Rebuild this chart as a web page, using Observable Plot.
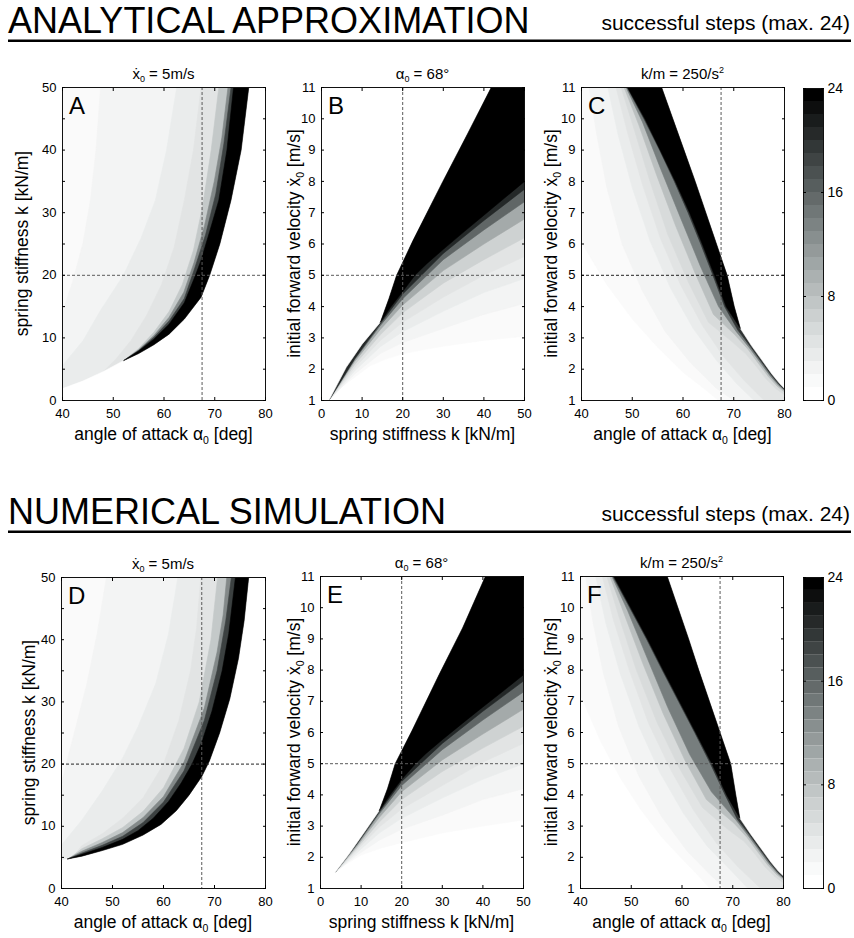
<!DOCTYPE html>
<html><head><meta charset="utf-8">
<script src="https://cdn.jsdelivr.net/npm/d3@7"></script>
<script src="https://cdn.jsdelivr.net/npm/@observablehq/plot@0.6"></script>
<style>
body{margin:0;background:#fff;}
#root{position:relative;width:854px;height:938px;background:#fff;overflow:hidden;}
</style></head><body><div id="root"></div>
<script>
// ---------------- axes / ticks ----------------
const alphaDomain = [40, 80];
const kDomain = [0, 50];
const vDomain = [1, 11];
const alphaTicks = [40, 50, 60, 70, 80];
const kTicks = [0, 5, 10, 15, 20, 25, 30, 35, 40, 45, 50];
const kTickLabels = [0, 10, 20, 30, 40, 50];
const kTicksX = [0, 10, 20, 30, 40, 50];
const vTicks = [1, 2, 3, 4, 5, 6, 7, 8, 9, 10, 11];
const colorbarSteps = [0,1,2,3,4,5,6,7,8,9,10,11,12,13,14,15,16,17,18,19,20,21,22,23];
const colorbarTicks = [0, 8, 16, 24];

// ---------------- Panel A (analytical, x = angle of attack, y = k) ----------------
const A_lower = [[40,1.9],[44,3.1],[48,4.6],[52.1,6.4]];
const A_blackRight = [[52.1,6.4],[55,7.5],[58,8.9],[61,10.6],[64,13],[67.3,16.5],[69,20],[71,25],[73.2,32],[75.2,40],[76.7,50]];
const A_blackLeft = [[52.1,6.4],[55,7.9],[58,9.8],[61,12.2],[64,15.6],[66.2,20],[67.3,22.4],[69,27],[70.8,32],[72.4,40],[73.7,50]];
const A_levels = [1, 2, 3, 4, 7, 13, 19];
const A_contours = [
  [[40,1.9],[40,50]],
  [[40,14],[42,19],[44,25],[45.5,32],[46.6,40],[47.5,50]],
  [[40,5.6],[44,9.5],[47.5,14.4],[52,20],[55.5,26],[58.3,32],[60.5,40],[62.5,50]],
  [[48,4.6],[50.5,6.6],[53.5,9.6],[56.5,13.5],[59.5,18.5],[62,24.5],[64,32],[65.8,40],[67.3,50]],
  [[52.1,6.4],[55,8.3],[58,10.9],[61,14.2],[63.6,18.5],[65.8,24],[67.6,31],[69.3,40],[70.8,50]],
  [[52.1,6.4],[55,8.1],[58,10.4],[61,13.3],[63.9,17.3],[65.9,22],[68,28],[69.9,35],[71.4,42],[72.6,50]],
  [[52.1,6.4],[55,8.0],[58,10.1],[61,12.7],[64,16.3],[66,21],[68.2,26.5],[70.2,33],[71.8,41],[73.2,50]]
];

// ---------------- Panel D (numerical, x = angle of attack, y = k) ----------------
const D_lower = [[40,4.5],[41.2,4.75]];
const D_blackRight = [[41.2,4.75],[44,5.2],[48,6.1],[52,7.1],[56,8.6],[59.5,10.3],[62.5,12.5],[65,15],[67.5,18],[69,20.5],[71,25],[73,30.5],[74.7,37],[75.8,43],[76.7,50]];
const D_blackLeft = [[41.2,4.75],[44,5.5],[48,6.6],[52,7.9],[55,9.3],[58,11.3],[61,14],[63.5,17],[65.6,20],[67.5,23.5],[69.5,28.5],[71.5,35],[72.8,41],[74.1,50]];
const D_levels = [1, 2, 3, 4, 7, 13, 19];
const D_contours = [
  [[40,4.5],[40,50]],
  [[40,17],[42.5,25],[45,33],[47,41],[48.8,50]],
  [[40,7],[44,11],[48,15.7],[52,21],[55,26],[58.5,33],[61,41],[62.8,50]],
  [[42.5,5.4],[44,6.9],[48,8.8],[52,11.3],[56,14.6],[60,20],[63,27],[65.3,35],[66.5,42],[67.3,50]],
  [[42,5.15],[44,6.4],[48,8.0],[52,9.8],[56,12.4],[60,16.2],[64,22.5],[67,30],[69.3,40],[70.6,50]],
  [[41.2,4.75],[44,6.0],[48,7.4],[52,9.0],[56,11.4],[60,14.8],[64,20.3],[68,29],[70.5,38],[71.7,44],[72.4,50]],
  [[41.2,4.75],[44,5.7],[48,6.95],[52,8.4],[56,10.6],[60,13.9],[64,18.9],[68,27],[70.5,35],[72.2,43],[73.3,50]]
];

// ---------------- Panel B (analytical, x = k, y = forward velocity) ----------------
const B_upper = [[1.8,1],[6.1,2.06],[10,2.8],[14.5,3.5],[16.6,4.25],[18.5,5],[22.5,6.1],[29.9,8.0],[35.9,9.5],[41.8,11]];
const B_blackLower = [[14.5,3.5],[17,3.98],[20,4.48],[23,5.0],[26,5.38],[30,5.83],[35,6.38],[40,6.92],[45,7.46],[50,8.0]];
const B_levels = [1, 2, 3, 4, 6, 10, 16, 21];
const B_contours = [
  [[1.8,1],[5,1.43],[8.2,1.74],[12,2.11],[16,2.33],[20,2.49],[25,2.62],[30,2.73],[40,2.92],[50,3.05]],
  [[1.8,1],[8.2,1.85],[14.5,2.5],[20,2.85],[30,3.3],[40,3.75],[50,4.1]],
  [[1.8,1],[8.2,1.95],[14.5,2.72],[20,3.2],[30,3.85],[40,4.45],[50,4.9]],
  [[1.8,1],[8.2,2.05],[14.5,2.92],[20,3.5],[30,4.3],[40,5.0],[50,5.6]],
  [[1.8,1],[8.2,2.15],[14.5,3.1],[20,3.8],[30,4.75],[40,5.5],[50,6.2]],
  [[1.8,1],[8.2,2.25],[14.5,3.27],[20,4.05],[30,5.15],[40,6.0],[50,6.8]],
  [[1.8,1],[8.2,2.31],[14.5,3.4],[20,4.25],[30,5.5],[40,6.45],[50,7.35]],
  [[1.8,1],[8.2,2.34],[14.5,3.46],[20,4.4],[30,5.7],[40,6.75],[50,7.75]]
];

// ---------------- Panel E (numerical, x = k, y = forward velocity) ----------------
const E_upper = [[3.7,1.53],[7,2.1],[10.5,2.75],[14.5,3.5],[16.5,4.2],[18.4,5],[22.5,6.05],[29.2,7.85],[35,9.35],[40.6,11]];
const E_blackLower = [[14.5,3.5],[17,3.98],[20,4.5],[23.4,5.0],[26,5.33],[30,5.77],[35,6.3],[40,6.82],[45,7.33],[50,7.85]];
const E_levels = [1, 2, 3, 4, 6, 10, 16, 21];
const E_contours = [
  [[3.7,1.53],[6,1.75],[10,2.07],[15,2.3],[20,2.47],[30,2.78],[40,3.0],[50,3.2]],
  [[3.7,1.53],[9,2.07],[14.5,2.55],[20,2.9],[30,3.35],[40,3.85],[50,4.2]],
  [[3.7,1.53],[9,2.15],[14.5,2.78],[20,3.25],[30,3.9],[40,4.5],[50,5.0]],
  [[3.7,1.53],[9,2.23],[14.5,2.97],[20,3.55],[30,4.3],[40,5.05],[50,5.65]],
  [[3.7,1.53],[9,2.3],[14.5,3.13],[20,3.85],[30,4.75],[40,5.5],[50,6.2]],
  [[3.7,1.53],[9,2.36],[14.5,3.28],[20,4.1],[30,5.12],[40,5.95],[50,6.75]],
  [[3.7,1.53],[9,2.41],[14.5,3.4],[20,4.3],[30,5.45],[40,6.4],[50,7.3]],
  [[3.7,1.53],[9,2.44],[14.5,3.46],[20,4.43],[30,5.65],[40,6.68],[50,7.65]]
];

// ---------------- Panel C (analytical, x = angle of attack, y = forward velocity) ----------------
const C_blackLeft = [[49.1,11],[52.5,10],[55.5,9],[58.5,8],[61.3,7],[63.8,6],[66.2,5],[68.5,4],[71.3,3.3]];
const C_blackRight = [[55.8,11],[58,10],[60.2,9],[62.4,8],[64.5,7],[66.6,6],[68.7,5],[70.1,4],[71.3,3.3]];
const C_outer = [[71.3,3.3],[73.5,2.75],[75.5,2.3],[77.5,1.85],[79,1.55],[80,1.38]];
const C_levels = [1, 2, 3, 4, 5, 8, 14, 20];
const C_contours = [
  [[40,6.05],[45,4.7],[50,3.6],[55,2.7],[60,1.9],[64,1.4],[67,1]],
  [[41.5,11],[43,9.5],[45,7.8],[48,6],[52,4.5],[56.5,3.2],[61.5,2.2],[66.5,1.4],[70,1]],
  [[45.2,11],[47.2,9.5],[50,7.8],[53.5,6.1],[57.5,4.6],[62,3.3],[66.5,2.3],[70.5,1.55],[74,1]],
  [[46.8,11],[49,9.6],[52,7.9],[55.5,6.2],[59.5,4.7],[63.8,3.4],[68,2.4],[72,1.65],[76,1]],
  [[47.8,11],[50.3,9.7],[53.5,8],[57,6.3],[61,4.8],[65,3.5],[69.5,2.9],[72.3,2.5],[74.3,2.12],[76.3,1.7],[78.3,1.38],[80,1.18]],
  [[48.4,11],[51.3,9.8],[54.8,8.2],[58.5,6.6],[62.3,5.1],[66,3.75],[70.2,3.1],[72.8,2.64],[74.8,2.2],[76.8,1.77],[78.6,1.45],[80,1.27]],
  [[48.8,11],[52,9.9],[55.6,8.4],[59.6,6.8],[63.4,5.3],[67,4.0],[70.5,3.2],[73.1,2.68],[75.1,2.24],[77.1,1.8],[78.8,1.49],[80,1.32]],
  [[49,11],[52.3,10],[55.4,9],[58.3,8],[61,7],[63.5,6],[65.9,5],[68.2,4],[70.8,3.25],[73.3,2.72],[75.3,2.27],[77.3,1.83],[78.9,1.52],[80,1.35]]
];

// ---------------- Panel F (numerical, x = angle of attack, y = forward velocity) ----------------
const F_blackLeft = [[46.6,11],[49.9,10],[53.2,9],[56.3,8],[59.5,7],[62.7,6],[65.9,5],[68.8,4],[71.4,3.25]];
const F_blackRight = [[57.1,11],[59.2,10],[61.3,9],[63.3,8],[65.4,7],[67.5,6],[69.6,5],[70.6,4],[71.4,3.25]];
const F_outer = [[71.4,3.25],[73.5,2.75],[75.5,2.3],[77.5,1.85],[79,1.55],[80,1.4]];
const F_levels = [1, 2, 3, 4, 5, 8, 14, 20];
const F_contours = [
  [[40,7.2],[44,5.7],[48,4.5],[52,3.5],[56,2.65],[60,1.95],[63,1.45],[65.5,1]],
  [[41,11],[42.5,9.5],[44.5,7.9],[47.5,6.2],[51.5,4.6],[56,3.3],[61,2.2],[65.5,1.45],[68.5,1]],
  [[43,11],[45,9.5],[47.8,7.9],[51.5,6.2],[55.7,4.7],[60.3,3.4],[65,2.35],[69.5,1.6],[73,1]],
  [[44.3,11],[46.5,9.6],[49.6,8],[53.4,6.3],[57.8,4.8],[62.3,3.5],[66.8,2.45],[71,1.7],[75.5,1]],
  [[45.2,11],[47.6,9.7],[51,8],[55,6.35],[59.5,4.85],[64,3.6],[69,2.9],[72.3,2.5],[74.3,2.12],[76.3,1.7],[78.3,1.38],[80,1.18]],
  [[45.8,11],[48.6,9.8],[52.3,8.2],[56.3,6.6],[60.6,5.1],[64.8,3.85],[70.2,3.1],[72.8,2.64],[74.8,2.2],[76.8,1.77],[78.6,1.45],[80,1.27]],
  [[46.2,11],[49.3,9.9],[53.1,8.4],[57.2,6.8],[61.5,5.3],[65.8,4.1],[70.6,3.2],[73.1,2.68],[75.1,2.24],[77.1,1.8],[78.8,1.49],[80,1.32]],
  [[46.4,11],[49.7,10],[53,9],[56.1,8],[59.3,7],[62.5,6],[65.6,5],[68.5,4],[70.9,3.22],[73.3,2.72],[75.3,2.27],[77.3,1.83],[78.9,1.52],[80,1.35]]
];

// reference (dashed) lines
const alphaRef = 67.5, kRef = 20, vRef = 5;

// ---------------- helpers ----------------
const FONT = "'Liberation Sans', Arial, Helvetica, sans-serif";
const MAXSTEPS = 24;
function shade(L) {
  const f = Math.pow(Math.max(0, L) / MAXSTEPS, 1.25);
  const v = 1 - f, base = 255 * v, t = v * (1 - v);
  const r = Math.round(Math.max(0, base - 24 * t));
  const g = Math.round(Math.min(255, base + 3 * t));
  return `rgb(${r},${g},${g})`;
}
const [ax0, ax1] = alphaDomain, [k0, k1] = kDomain, [v0, v1] = vDomain;

function polysAK(lower, bLeft, bRight, levels, contours) {
  const out = contours.map((c, i) => ({pts: [...c, [ax1, k1], [ax1, k0], [c[0][0], k0]], fill: shade(levels[i])}));
  const top = bRight[bRight.length - 1];
  out.push({pts: [top, [ax1, k1], [ax1, k0], [ax0, k0], ...lower, ...bRight.slice(1)], fill: "#ffffff"});
  out.push({pts: [...bLeft, ...bRight.slice().reverse()], fill: shade(MAXSTEPS)});
  return out;
}
function polysKV(upper, bLower, levels, contours) {
  const out = contours.map((c, i) => ({pts: [...c, [k1, v1], [k0, v1], [k0, c[0][1]]], fill: shade(levels[i])}));
  out.push({pts: [[k0, v0], ...upper, [k0, v1]], fill: "#ffffff"});
  const tipX = bLower[0][0];
  out.push({pts: [...bLower, [k1, v1], ...upper.filter(p => p[0] >= tipX).reverse()], fill: shade(MAXSTEPS)});
  return out;
}
function polysAV(bLeft, bRight, outer, levels, contours) {
  const out = contours.map((c, i) => {
    const head = c[0][1] < v1 ? [[c[0][0], v1]] : [];
    return {pts: [...head, ...c, [ax1, v0], [ax1, v1]], fill: shade(levels[i])};
  });
  out.push({pts: [...bRight, ...outer.slice(1), [ax1, v1]], fill: "#ffffff"});
  out.push({pts: [...bLeft, ...bRight.slice().reverse()], fill: shade(MAXSTEPS)});
  return out;
}

const root = document.getElementById("root");

function drawPanel(s) {
  const mL = 45, mR = 12, mT = 6, mB = 30;
  const marks = s.polys.map(p => Plot.line(p.pts, {x: d => d[0], y: d => d[1], fill: p.fill, stroke: p.fill, strokeWidth: 0.6}));
  marks.push(Plot.ruleX([s.dashX], {stroke: s.dashColorX, strokeDasharray: "3,2", strokeWidth: 1}));
  marks.push(Plot.ruleY([s.dashY], {stroke: s.dashColorY, strokeDasharray: "3,2", strokeWidth: 1}));
  marks.push(Plot.frame({stroke: "#111", strokeWidth: 1}));
  marks.push(Plot.axisX(s.xTicks, {anchor: "bottom", tickSize: 3, dy: -3, tickPadding: 8, tickFormat: d => s.xLabels.includes(d) ? String(d) : "", label: null}));
  marks.push(Plot.axisX(s.xTicks, {anchor: "top", tickSize: 3, dy: 3, tickFormat: () => "", label: null}));
  marks.push(Plot.axisY(s.yTicks, {anchor: "left", tickSize: 3, dx: 3, tickPadding: 6, tickFormat: d => s.yLabels.includes(d) ? String(d) : "", label: null}));
  marks.push(Plot.axisY(s.yTicks, {anchor: "right", tickSize: 3, dx: -3, tickFormat: () => "", label: null}));
  const svg = Plot.plot({
    width: s.w + mL + mR, height: s.h + mT + mB,
    marginLeft: mL, marginRight: mR, marginTop: mT, marginBottom: mB,
    x: {domain: s.xDomain}, y: {domain: s.yDomain},
    style: {fontFamily: FONT, fontSize: "13px", color: "#000", background: "transparent", overflow: "visible"},
    marks
  });
  svg.style.position = "absolute";
  svg.style.left = (s.left - mL) + "px";
  svg.style.top = (s.top - mT) + "px";
  svg.style.maxWidth = "none";
  root.appendChild(svg);
}

function drawColorbar(left, top, w, h) {
  const mL = 10, mR = 30, mT = 8, mB = 8;
  const svg = Plot.plot({
    width: w + mL + mR, height: h + mT + mB,
    marginLeft: mL, marginRight: mR, marginTop: mT, marginBottom: mB,
    x: {domain: [0, 1]}, y: {domain: [0, MAXSTEPS]}, color: {type: "identity"},
    style: {fontFamily: FONT, fontSize: "14px", color: "#000", background: "transparent", overflow: "visible"},
    marks: [
      Plot.rect(colorbarSteps, {x1: () => 0, x2: () => 1, y1: d => d, y2: d => d + 1, fill: d => shade(d * MAXSTEPS / 23)}),
      Plot.frame({stroke: "#111", strokeWidth: 1}),
      Plot.axisY(colorbarTicks, {anchor: "right", tickSize: 3, dx: -3, tickPadding: 4, label: null}),
      Plot.axisY(colorbarTicks, {anchor: "left", tickSize: 3, dx: 3, tickFormat: () => "", label: null}),
      Plot.axisX([], {anchor: "bottom", label: null})
    ]
  });
  svg.style.position = "absolute";
  svg.style.left = (left - mL) + "px";
  svg.style.top = (top - mT) + "px";
  svg.style.maxWidth = "none";
  root.appendChild(svg);
}

const G = "#5a5a5a", K = "#222";
const panels = [
  {name: "A", left: 62, top: 87, w: 203, h: 313, xDomain: alphaDomain, yDomain: kDomain, xTicks: alphaTicks, xLabels: alphaTicks, yTicks: kTicks, yLabels: kTickLabels,
   polys: polysAK(A_lower, A_blackLeft, A_blackRight, A_levels, A_contours), dashX: alphaRef, dashY: kRef, dashColorX: G, dashColorY: G},
  {name: "B", left: 321, top: 87, w: 203, h: 313, xDomain: kDomain, yDomain: vDomain, xTicks: kTicksX, xLabels: kTicksX, yTicks: vTicks, yLabels: vTicks,
   polys: polysKV(B_upper, B_blackLower, B_levels, B_contours), dashX: kRef, dashY: vRef, dashColorX: G, dashColorY: G},
  {name: "C", left: 581, top: 87, w: 203, h: 313, xDomain: alphaDomain, yDomain: vDomain, xTicks: alphaTicks, xLabels: alphaTicks, yTicks: vTicks, yLabels: vTicks,
   polys: polysAV(C_blackLeft, C_blackRight, C_outer, C_levels, C_contours), dashX: alphaRef, dashY: vRef, dashColorX: G, dashColorY: K},
  {name: "D", left: 61, top: 577, w: 204, h: 311, xDomain: alphaDomain, yDomain: kDomain, xTicks: alphaTicks, xLabels: alphaTicks, yTicks: kTicks, yLabels: kTickLabels,
   polys: polysAK(D_lower, D_blackLeft, D_blackRight, D_levels, D_contours), dashX: alphaRef, dashY: kRef, dashColorX: G, dashColorY: K},
  {name: "E", left: 320, top: 576, w: 203, h: 312, xDomain: kDomain, yDomain: vDomain, xTicks: kTicksX, xLabels: kTicksX, yTicks: vTicks, yLabels: vTicks,
   polys: polysKV(E_upper, E_blackLower, E_levels, E_contours), dashX: kRef, dashY: vRef, dashColorX: G, dashColorY: G},
  {name: "F", left: 580, top: 576, w: 203, h: 312, xDomain: alphaDomain, yDomain: vDomain, xTicks: alphaTicks, xLabels: alphaTicks, yTicks: vTicks, yLabels: vTicks,
   polys: polysAV(F_blackLeft, F_blackRight, F_outer, F_levels, F_contours), dashX: alphaRef, dashY: vRef, dashColorX: G, dashColorY: G}
];
panels.forEach(drawPanel);
drawColorbar(803, 88, 20, 312);
drawColorbar(803, 577, 20, 311);

// ---------------- text overlay ----------------
const ov = d3.create("svg").attr("width", 854).attr("height", 938)
  .style("position", "absolute").style("left", "0px").style("top", "0px")
  .attr("font-family", FONT).attr("fill", "#000");
root.appendChild(ov.node());

function addText(x, y, size, parts, anchor = "start", rotate = 0) {
  const t = ov.append("text").attr("font-size", size).attr("text-anchor", anchor)
    .attr("transform", `translate(${x},${y})` + (rotate ? ` rotate(${rotate})` : ""));
  let shift = 0;
  for (const p of parts) {
    const ts = t.append("tspan");
    let txt = p, target = 0;
    if (typeof p === "object") {
      txt = p.t; target = p.sub ? 0.22 * size : -0.38 * size;
      ts.attr("font-size", (0.6 * size).toFixed(1));
    }
    ts.attr("dy", (target - shift).toFixed(2)).text(txt);
    shift = target;
  }
}

const sectionTitles = ["ANALYTICAL APPROXIMATION", "NUMERICAL SIMULATION"];
const sectionNote = "successful steps (max. 24)";
const subtitles = [
  ["\u1E8B", {t: "0", sub: true}, " = 5m/s"],
  ["\u03B1", {t: "0", sub: true}, " = 68\u00B0"],
  ["k/m = 250/s", {t: "2", sub: false}]
];
const xTitles = [
  ["angle of attack \u03B1", {t: "0", sub: true}, " [deg]"],
  ["spring stiffness k [kN/m]"],
  ["angle of attack \u03B1", {t: "0", sub: true}, " [deg]"]
];
const yTitles = [
  ["spring stiffness k [kN/m]"],
  ["initial forward velocity \u1E8B", {t: "0", sub: true}, " [m/s]"],
  ["initial forward velocity \u1E8B", {t: "0", sub: true}, " [m/s]"]
];
const yTitleX = [28, 300, 557, 35, 300, 557];

[0, 1].forEach(row => {
  const off = row === 0 ? 0 : 491;
  addText(8, 33 + off, 36, [sectionTitles[row]]);
  addText(850, 30 + off, 21, [sectionNote], "end");
  ov.append("rect").attr("x", 8).attr("y", 39.5 + off).attr("width", 843).attr("height", 2.5).attr("fill", "#000");
});

panels.forEach((p, i) => {
  const col = i % 3;
  addText(p.left + p.w / 2, p.top - 8, 15, subtitles[col], "middle");
  addText(p.left + 7, p.top + 27, 24, [p.name]);
  addText(p.left + p.w / 2, p.top + p.h + 40, 17.5, xTitles[col], "middle");
  addText(yTitleX[i], p.top + p.h / 2, 17.5, yTitles[col], "middle", -90);
});
</script></body></html>
